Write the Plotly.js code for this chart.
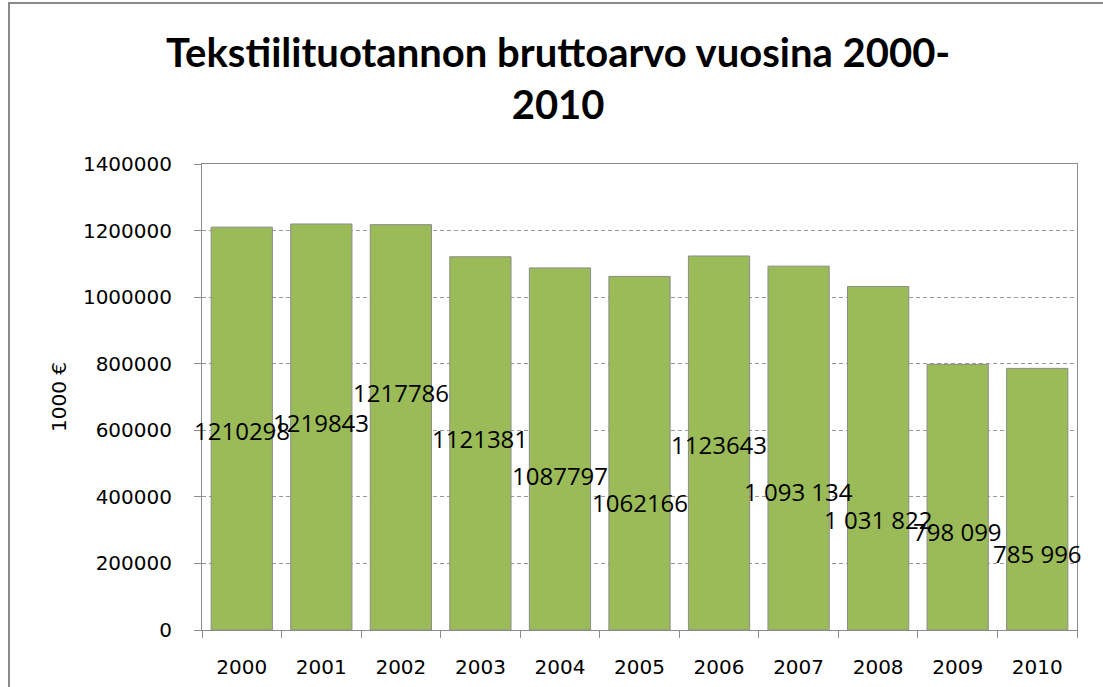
<!DOCTYPE html>
<html>
<head>
<meta charset="utf-8">
<script src="https://cdn.plot.ly/plotly-3.0.1.min.js"></script>
<style>
html,body{margin:0;padding:0;background:#fff;overflow:hidden;}
#chart{width:1103px;height:687px;}
#frame{position:absolute;left:8px;top:2px;width:1200px;height:800px;border-left:2px solid #8a8a8a;border-top:2px solid #8a8a8a;pointer-events:none;}
</style>
</head>
<body>
<div id="chart"></div>
<div id="frame"></div>
<script>
// ---- data ----
const years = ['2000','2001','2002','2003','2004','2005','2006','2007','2008','2009','2010'];
const values = [1210298, 1219843, 1217786, 1121381, 1087797, 1062166, 1123643, 1093134, 1031822, 798099, 785996];
const labels = ['1210298','1219843','1217786','1121381','1087797','1062166','1123643','1 093 134','1 031 822','798 099','785 996'];
const yTicks = [0, 200000, 400000, 600000, 800000, 1000000, 1200000, 1400000];

// ---- label placement (fraction of bar height, as in the original) ----
const labelFrac = [0.496, 0.512, 0.587, 0.514, 0.428, 0.362, 0.495, 0.382, 0.323, 0.369, 0.294];

const trace = {
  type: 'bar',
  x: years,
  y: values,
  marker: {color: '#9BBB59', line: {color: '#8c8c8c', width: 1}},
  width: 0.77,
  hoverinfo: 'skip'
};

const annotations = years.map((yr, i) => ({
  x: i, y: values[i] * labelFrac[i], xref: 'x', yref: 'y',
  text: labels[i], showarrow: false,
  font: {family: 'Open Sans', size: 24, color: '#000'},
  xanchor: 'center', yanchor: 'middle'
}));

const layout = {
  width: 1103, height: 687,
  margin: {l: 202, r: 26, t: 164, b: 57},
  paper_bgcolor: '#fff', plot_bgcolor: '#fff',
  showlegend: false,
  title: {
    text: 'Tekstiilituotannon bruttoarvo vuosina 2000-<br>2010',
    font: {family: 'Lato', size: 40, weight: 'bold', color: '#000'},
    xref: 'container', x: 0.506, xanchor: 'center',
    yref: 'container', y: 0.902, yanchor: 'top'
  },
  xaxis: {
    type: 'category',
    range: [-0.5, 10.5],
    showline: true, linecolor: '#8c8c8c', linewidth: 1, mirror: true,
    ticks: 'outside', ticklen: 7, tickcolor: '#8c8c8c', tickson: 'boundaries',
    showgrid: false,
    tickfont: {family: 'DejaVu Sans', size: 20, color: '#000'},
    ticklabelstandoff: 19
  },
  yaxis: {
    range: [0, 1400000],
    tickvals: yTicks, ticktext: yTicks.map(String),
    showline: true, linecolor: '#8c8c8c', linewidth: 1, mirror: true,
    ticks: 'outside', ticklen: 7, tickcolor: '#8c8c8c',
    showgrid: true, gridcolor: '#9a9a9a', griddash: '4px,3px', gridwidth: 1,
    zeroline: false,
    tickfont: {family: 'DejaVu Sans', size: 20, color: '#000'},
    ticklabelstandoff: 18,
    title: {text: '1000 €', font: {family: 'DejaVu Sans', size: 20, color: '#000'}, standoff: 10}
  },
  annotations: annotations
};

Plotly.newPlot('chart', [trace], layout, {staticPlot: true, displayModeBar: false});
</script>
</body>
</html>
